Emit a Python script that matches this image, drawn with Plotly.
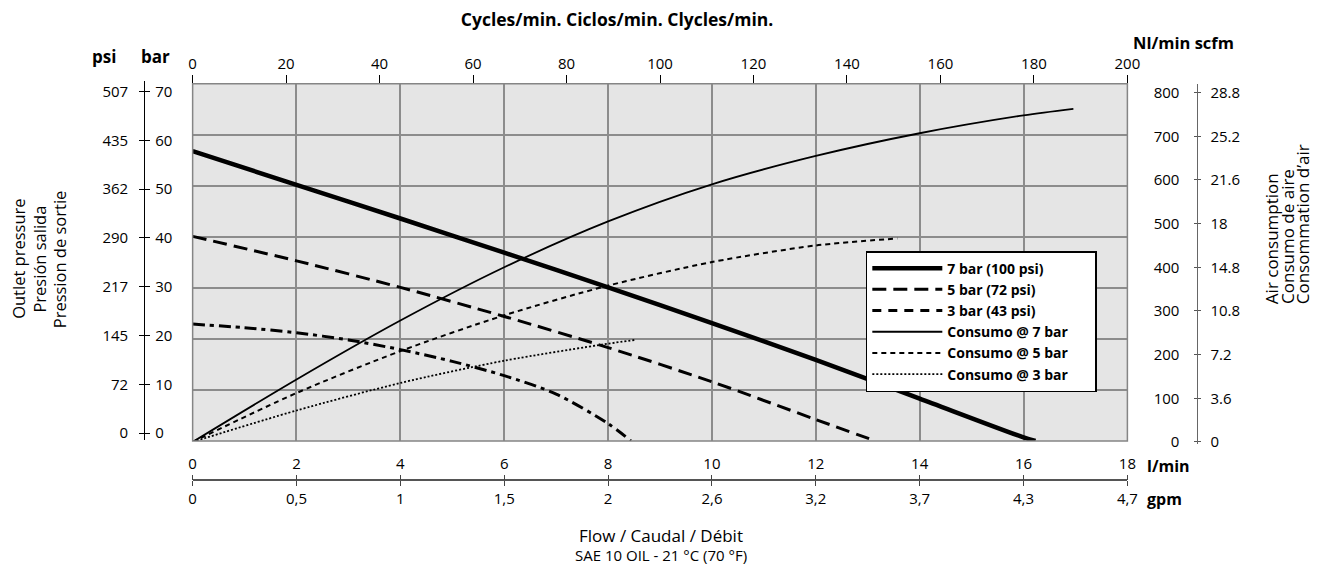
import plotly.graph_objects as go

# page is 1331x575; the browser keeps an 8px body margin, so the figure is 16px smaller
PAGE_W, PAGE_H, PAD = 1331, 575, 8
W, H = PAGE_W - 2 * PAD, PAGE_H - 2 * PAD

# ---------------- data ----------------
flow_7bar = [0, 2, 4, 6, 8, 10, 12, 14, 16, 16.23]
pres_7bar = [56.8, 50.2, 43.6, 36.9, 30.1, 23.1, 15.9, 8.3, 0.7, 0]

flow_5bar = [0, 2, 4, 6, 8, 10, 12, 13.15]
pres_5bar = [40.1, 35.3, 30.1, 24.4, 18.3, 11.6, 4.2, 0]

flow_3bar = [0, 1, 2, 3, 4, 5, 6, 7, 8, 8.44]
pres_3bar = [22.9, 22.2, 21.2, 19.8, 17.9, 15.6, 12.8, 9.2, 3.4, 0]

flow_c7 = [0, 2, 4, 6, 8, 10, 12, 14, 16, 16.96]
air_c7 = [0, 143, 278, 400, 505, 590, 655, 707, 748, 763]

flow_c5 = [0, 2, 4, 6, 8, 10, 12, 13.57]
air_c5 = [0, 112, 208, 290, 358, 412, 450, 466]

flow_c3 = [0, 2, 4, 6, 8, 8.54]
air_c3 = [0, 72, 135, 186, 225, 234]

lmin_ticks = [0, 2, 4, 6, 8, 10, 12, 14, 16, 18]
gpm_labels = ["0", "0,5", "1", "1,5", "2", "2,6", "3,2", "3,7", "4,3", "4,7"]
cycles_ticks = [0, 20, 40, 60, 80, 100, 120, 140, 160, 180, 200]
bar_ticks = [0, 10, 20, 30, 40, 50, 60, 70]
psi_labels = ["0", "72", "145", "217", "290", "362", "435", "507"]
nl_ticks = [0, 100, 200, 300, 400, 500, 600, 700, 800]
scfm_labels = ["0", "3.6", "7.2", "10.8", "14.8", "18", "21.6", "25.2", "28.8"]

series_names = ["7 bar (100 psi)", "5 bar (72 psi)", "3 bar (43 psi)",
                "Consumo @ 7 bar", "Consumo @ 5 bar", "Consumo @ 3 bar"]
left_title = ["Outlet pressure", "Presión salida", "Pression de sortie"]
right_title = ["Air consumption", "Consumo de aire", "Consommation d’air"]

FONT = "'Open Sans', 'Noto Sans', sans-serif"
NBSP = "\u00a0" * 6   # right padding inside the legend box


def fx(px):
    return (px - PAD) / W


def fy(py):
    return 1 - (py - PAD) / H


fig = go.Figure()

SPL = dict(shape="spline", smoothing=0.8)
# pressure curves
fig.add_trace(go.Scatter(x=flow_7bar, y=pres_7bar, name=series_names[0] + NBSP, mode="lines",
                         line=dict(color="black", width=4.5, **SPL), xaxis="x", yaxis="y"))
fig.add_trace(go.Scatter(x=flow_5bar, y=pres_5bar, name=series_names[1] + NBSP, mode="lines",
                         line=dict(color="black", width=3, dash="14px,7px", **SPL),
                         xaxis="x", yaxis="y"))
fig.add_trace(go.Scatter(x=flow_3bar, y=pres_3bar, name=series_names[2], mode="lines",
                         line=dict(color="black", width=3, dash="12px,5px,4px,5px", **SPL),
                         xaxis="x", yaxis="y", showlegend=False))
# legend sample for the 3 bar curve (as drawn in the reference legend)
fig.add_trace(go.Scatter(x=[None], y=[None], name=series_names[2] + NBSP, mode="lines",
                         line=dict(color="black", width=3, dash="9px,7px"),
                         xaxis="x", yaxis="y"))
# air consumption curves
fig.add_trace(go.Scatter(x=flow_c7, y=air_c7, name=series_names[3] + NBSP, mode="lines",
                         line=dict(color="black", width=1.8, **SPL), xaxis="x", yaxis="y2"))
fig.add_trace(go.Scatter(x=flow_c5, y=air_c5, name=series_names[4] + NBSP, mode="lines",
                         line=dict(color="black", width=2, dash="5px,4px", **SPL),
                         xaxis="x", yaxis="y2"))
fig.add_trace(go.Scatter(x=flow_c3, y=air_c3, name=series_names[5] + NBSP, mode="lines",
                         line=dict(color="black", width=1.8, dash="2px,2px", **SPL),
                         xaxis="x", yaxis="y2"))

# helper traces so the extra axes are drawn
for xa, ya in [("x2", "y"), ("x3", "y"), ("x4", "y"),
               ("x9", "y3"), ("x9", "y4"), ("x9", "y5"), ("x9", "y6")]:
    fig.add_trace(go.Scatter(x=[None], y=[None], xaxis=xa, yaxis=ya, showlegend=False,
                             hoverinfo="skip", mode="lines"))

GRID = "#8c8c8c"
tickfont = dict(family=FONT, size=15, color="black")

fig.update_layout(
    width=W, height=H,
    margin=dict(l=0, r=0, t=0, b=0),
    paper_bgcolor="white",
    plot_bgcolor="rgba(0,0,0,0)",
    font=dict(family=FONT, size=15, color="black"),
    title=dict(text="<b>Cycles/min. Ciclos/min. Clycles/min.</b>", x=fx(621), xanchor="center",
               y=fy(18), yanchor="middle", xref="paper", yref="paper",
               font=dict(family=FONT, size=17.5, color="black")),
    xaxis=dict(domain=[fx(191), fx(1138)], range=[0, 18], tickvals=lmin_ticks,
               showgrid=True, gridcolor=GRID, gridwidth=1.5, showticklabels=False,
               ticks="", zeroline=False, showline=False, anchor="y"),
    yaxis=dict(domain=[fy(446), fy(83)], range=[0, 70], tickvals=bar_ticks,
               showgrid=True, gridcolor=GRID, gridwidth=1.5, showticklabels=False,
               ticks="", zeroline=False, showline=False, anchor="x"),
    xaxis2=dict(overlaying="x", side="top", anchor="y", range=[0, 200], tickvals=cycles_ticks,
                ticks="outside", ticklen=8, tickcolor="black", tickwidth=1,
                showgrid=False, zeroline=False, showline=False, tickfont=tickfont),
    xaxis3=dict(overlaying="x", anchor="free", position=fy(486), side="top", range=[0, 18],
                tickvals=lmin_ticks, ticks="outside", ticklen=5, tickcolor="#444",
                showline=True, linecolor="#555", linewidth=1.5,
                showgrid=False, zeroline=False, tickfont=tickfont),
    xaxis4=dict(overlaying="x", anchor="free", position=fy(486), side="bottom", range=[0, 18],
                tickvals=lmin_ticks, ticktext=gpm_labels, ticks="outside", ticklen=5, tickcolor="#444",
                showline=False, showgrid=False, zeroline=False, tickfont=tickfont),
    xaxis9=dict(domain=[0, 0.01], range=[0, 1], visible=False),
    yaxis2=dict(overlaying="y", range=[2.254, 820.28], visible=False),
    yaxis3=dict(anchor="free", position=fx(142), side="left", domain=[fy(445), fy(80)],
                range=[-1.412, 72.22], tickvals=bar_ticks, ticktext=psi_labels,
                ticks="outside", ticklen=5, tickcolor="black", showline=True, linecolor="black",
                linewidth=1.2, showgrid=False, zeroline=False, tickfont=tickfont,
                ticklabelstandoff=8),
    yaxis4=dict(overlaying="y3", anchor="free", position=fx(142), side="right",
                range=[-1.412, 72.22], tickvals=bar_ticks, ticks="outside", ticklen=5,
                tickcolor="black", showline=False, showgrid=False, zeroline=False,
                tickfont=tickfont, ticklabelstandoff=2),
    yaxis5=dict(anchor="free", position=fx(1209), side="left", domain=[fy(449), fy(83)],
                range=[-4.507, 820.28], tickvals=nl_ticks, ticks="outside", ticklen=3,
                tickcolor="#555", showline=True, linecolor="#666", linewidth=1.2,
                showgrid=False, zeroline=False, tickfont=tickfont, ticklabelstandoff=12),
    yaxis6=dict(overlaying="y5", anchor="free", position=fx(1209), side="right",
                range=[-4.507, 820.28], tickvals=nl_ticks, ticktext=scfm_labels,
                ticks="outside", ticklen=3, tickcolor="#555", showline=False,
                showgrid=False, zeroline=False, tickfont=tickfont, ticklabelstandoff=6),
    legend=dict(x=fx(873), y=fy(253), xanchor="left", yanchor="top", bgcolor="white",
                bordercolor="black", borderwidth=1.5, traceorder="normal",
                itemwidth=70,
                font=dict(family=FONT, size=14, color="black", weight="bold")),
    showlegend=True,
)

# plot area background and border
fig.add_shape(type="rect", xref="paper", yref="paper", x0=fx(191), x1=fx(1138), y0=fy(446), y1=fy(83),
              fillcolor="#e5e5e5", line=dict(width=0), layer="below")
fig.add_shape(type="rect", xref="paper", yref="paper", x0=fx(191), x1=fx(1138), y0=fy(446), y1=fy(83),
              fillcolor="rgba(0,0,0,0)", line=dict(color="#858585", width=1.5), layer="above")

ann = [
    dict(text="<b>psi</b>", x=fx(87), y=fy(55), size=17, xa="left", ya="middle"),
    dict(text="<b>bar</b>", x=fx(137), y=fy(55), size=17, xa="left", ya="middle"),
    dict(text="<b>Nl/min scfm</b>", x=fx(1142), y=fy(54.5), size=16.5, xa="left", ya="bottom"),
    dict(text="<b>l/min</b>", x=fx(1156), y=fy(471), size=16, xa="left", ya="middle"),
    dict(text="<b>gpm</b>", x=fx(1156), y=fy(505), size=16, xa="left", ya="middle"),
    dict(text="Flow / Caudal / Débit", x=fx(665), y=fy(542), size=17, xa="center", ya="middle"),
    dict(text="SAE 10 OIL - 21 °C (70 °F)", x=fx(665), y=fy(561.5), size=15, xa="center", ya="middle"),
]
for a in ann:
    fig.add_annotation(text=a["text"], x=a["x"], y=a["y"], xref="paper", yref="paper",
                       showarrow=False, xanchor=a["xa"], yanchor=a["ya"],
                       font=dict(family=FONT, size=a["size"], color="black"))

# rotated axis titles, one annotation per line
for txt, px in zip(left_title, [15, 36, 57]):
    fig.add_annotation(text=txt, x=fx(px), y=fy(261), xref="paper", yref="paper",
                       showarrow=False, textangle=-90, xanchor="center", yanchor="middle",
                       font=dict(family=FONT, size=16.5, color="black"))
for txt, px in zip(right_title, [1284, 1300, 1315]):
    fig.add_annotation(text=txt, x=fx(px), y=fy(309), xref="paper", yref="paper",
                       showarrow=False, textangle=-90, xanchor="center", yanchor="bottom",
                       font=dict(family=FONT, size=17, color="black"))

fig.write_html("out.html", config={"displayModeBar": False})
